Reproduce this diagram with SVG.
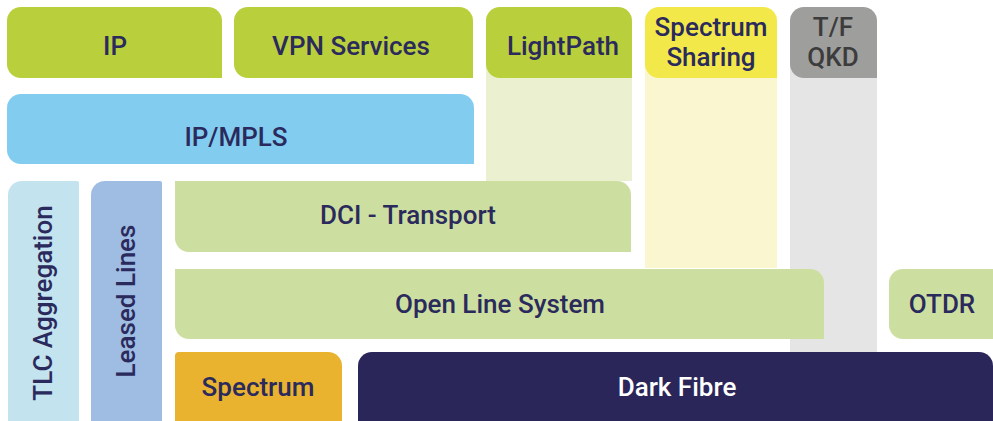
<svg xmlns="http://www.w3.org/2000/svg" width="993" height="421" viewBox="0 0 993 421">
  <style>
    .lbl { font-family: Roboto, "Liberation Sans", sans-serif; font-weight: 500; font-size: 26px; fill: #2b2a5c; text-anchor: middle; }
    .light { fill: #ffffff; }
    .grey { fill: #3c3c3c; }
    .green { fill: #b9cf3b; }
    .pale { fill: #cddfa0; }
  </style>
  <rect width="993" height="421" fill="#ffffff"/>

  <!-- background columns under the vertical services -->
  <g id="columns">
    <rect x="486" y="40" width="146" height="141" fill="#ebf1d0"/>
    <rect x="645" y="40" width="132" height="228" fill="#faf6d0"/>
    <rect x="790" y="40" width="87" height="312" fill="#e5e5e5"/>
  </g>

  <g id="ip">
    <path class="green" d="M7,21 A14,14 0 0 1 21,7 H208 A14,14 0 0 1 222,21 V78 H21 A14,14 0 0 1 7,64 Z"/>
    <text class="lbl" x="115" y="55">IP</text>
  </g>

  <g id="vpn-services">
    <path class="green" d="M234,21 A14,14 0 0 1 248,7 H459 A14,14 0 0 1 473,21 V78 H248 A14,14 0 0 1 234,64 Z"/>
    <text class="lbl" x="351" y="55">VPN Services</text>
  </g>

  <g id="lightpath">
    <path class="green" d="M486,21 A14,14 0 0 1 500,7 H618 A14,14 0 0 1 632,21 V78 H500 A14,14 0 0 1 486,64 Z"/>
    <text class="lbl" x="563" y="55">LightPath</text>
  </g>

  <g id="spectrum-sharing">
    <path fill="#f2e84a" d="M645,21 A14,14 0 0 1 659,7 H763 A14,14 0 0 1 777,21 V78 H659 A14,14 0 0 1 645,64 Z"/>
    <text class="lbl" x="711" y="36">Spectrum</text>
    <text class="lbl" x="711" y="66">Sharing</text>
  </g>

  <g id="tf-qkd">
    <path fill="#9e9e9d" d="M790,21 A14,14 0 0 1 804,7 H863 A14,14 0 0 1 877,21 V78 H804 A14,14 0 0 1 790,64 Z"/>
    <text class="lbl grey" x="833" y="36">T/F</text>
    <text class="lbl grey" x="833" y="66">QKD</text>
  </g>

  <g id="ip-mpls">
    <path fill="#82cdef" d="M7,108 A14,14 0 0 1 21,94 H460 A14,14 0 0 1 474,108 V164 H21 A14,14 0 0 1 7,150 Z"/>
    <text class="lbl" x="236" y="146">IP/MPLS</text>
  </g>

  <g id="tlc-aggregation">
    <path fill="#c3e3ef" d="M8,195 A14,14 0 0 1 22,181 H77 A2,2 0 0 1 79,183 V421 H8 Z"/>
    <text class="lbl" transform="translate(52,303) rotate(-90)">TLC Aggregation</text>
  </g>

  <g id="leased-lines">
    <path fill="#9fbde3" d="M91,195 A14,14 0 0 1 105,181 H160 A2,2 0 0 1 162,183 V421 H91 Z"/>
    <text class="lbl" transform="translate(135,301) rotate(-90)">Leased Lines</text>
  </g>

  <g id="dci-transport">
    <path class="pale" d="M175,181 H617 A14,14 0 0 1 631,195 V252 H189 A14,14 0 0 1 175,238 Z"/>
    <text class="lbl" x="408" y="224">DCI - Transport</text>
  </g>

  <g id="open-line-system">
    <path class="pale" d="M175,269 H810 A14,14 0 0 1 824,283 V339 H189 A14,14 0 0 1 175,325 Z"/>
    <text class="lbl" x="500" y="313">Open Line System</text>
  </g>

  <g id="otdr">
    <path class="pale" d="M903,269 H993 V339 H903 A14,14 0 0 1 889,325 V283 A14,14 0 0 1 903,269 Z"/>
    <text class="lbl" x="942" y="313">OTDR</text>
  </g>

  <g id="spectrum">
    <path fill="#e9b32f" d="M175,356 A4,4 0 0 1 179,352 H328 A14,14 0 0 1 342,366 V421 H175 Z"/>
    <text class="lbl" x="258" y="396">Spectrum</text>
  </g>

  <g id="dark-fibre">
    <path fill="#2a265a" d="M358,366 A14,14 0 0 1 372,352 H979 A14,14 0 0 1 993,366 V421 H358 Z"/>
    <text class="lbl light" x="677" y="396">Dark Fibre</text>
  </g>

  <!-- stacked layers touch directly; there are no connectors -->
  <g id="connectors"/>
</svg>
